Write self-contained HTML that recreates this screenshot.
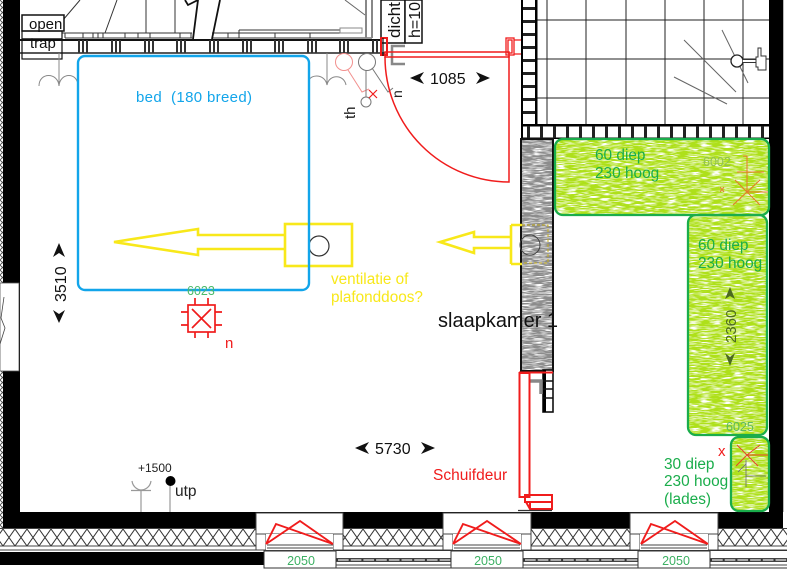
<!DOCTYPE html>
<html><head><meta charset="utf-8"><style>
html,body{margin:0;padding:0;background:#fff}
svg{display:block}
text{font-family:"Liberation Sans",sans-serif;white-space:pre}
</style></head><body>
<svg width="800" height="581" viewBox="0 0 800 581" xmlns="http://www.w3.org/2000/svg">
<defs>
<pattern id="hx" x="3" y="529" width="12" height="17" patternUnits="userSpaceOnUse"><path d="M0 0L12 17M12 0L0 17" stroke="#333" stroke-width="1"/></pattern>
<pattern id="hl" width="5" height="5" patternUnits="userSpaceOnUse"><path d="M0 0L5 5M5 0L0 5" stroke="#444" stroke-width=".8"/></pattern>
<filter id="tex" x="0" y="0" width="1" height="1" color-interpolation-filters="sRGB">
<feTurbulence type="fractalNoise" baseFrequency="0.09 1" numOctaves="2" seed="3"/>
<feColorMatrix values="0 0 0 0 1  0 0 0 0 1  0 0 0 0 1  5 0 0 0 -2.4"/>
<feComposite in2="SourceGraphic" operator="atop"/>
</filter>
</defs>
<rect width="800" height="581" fill="#fff"/>

<!-- left wall -->
<rect x="0" y="0" width="3" height="528" fill="url(#hl)"/>
<rect x="3" y="0" width="17" height="528" fill="#000"/>
<rect x="0" y="283" width="19" height="88" fill="#fff" stroke="#555" stroke-width=".8"/>
<path d="M4 297L1 318L5 328L0 344" fill="none" stroke="#444" stroke-width=".8"/>

<!-- bottom wall -->
<rect x="3" y="512" width="766" height="17" fill="#000"/>
<rect x="0" y="529" width="787" height="17" fill="url(#hx)"/>
<path d="M0 528.500H787M0 546H787M0 550H787" stroke="#444" stroke-width="1" fill="none"/>
<rect x="0" y="552" width="264" height="13" fill="#000"/>
<g stroke="#444" stroke-width="1" fill="#fff">
<rect x="256" y="513" width="87" height="21"/><rect x="443" y="513" width="88" height="21"/><rect x="630" y="513" width="88" height="21"/>
<rect x="256" y="534" width="10" height="16"/><rect x="333" y="534" width="10" height="16"/>
<rect x="443" y="534" width="10" height="16"/><rect x="521" y="534" width="10" height="16"/>
<rect x="630" y="534" width="10" height="16"/><rect x="708" y="534" width="10" height="16"/>
</g>
<g fill="#fff" stroke="none"><rect x="266" y="534" width="67" height="16"/><rect x="453" y="534" width="68" height="16"/><rect x="640" y="534" width="68" height="16"/></g>
<path d="M267 545H333M267 548H333M454 545H520M454 548H520M641 545H707M641 548H707" stroke="#444" stroke-width="1"/>
<!-- lower strip -->
<path d="M336 550.500H787M264 568H787" stroke="#333" stroke-width="1"/>
<path d="M336 558.500H451M336 561.500H451M336 565H451M523 558.500H638M523 561.500H638M523 565H638M710 558.500H787M710 561.500H787M710 565H787" stroke="#444" stroke-width="1"/>
<path d="M336 560H451M523 560H638M710 560H787" stroke="#aaa" stroke-width="2"/>
<path d="M336 560H451M523 560H638M710 560H787" stroke="#333" stroke-width="2" stroke-dasharray="2 10.700"/>
<g fill="#fff" stroke="#333" stroke-width="1">
<rect x="264" y="551" width="72" height="17"/><rect x="451" y="551" width="72" height="17"/><rect x="638" y="551" width="72" height="17"/>
</g>
<g font-size="12.500" fill="#3cb063" text-anchor="middle"><text x="301" y="565">2050</text><text x="488" y="565">2050</text><text x="676" y="565">2050</text></g>
<g fill="none" stroke="#f01c1c" stroke-width="1.900">
<path d="M266 544L276 524L333 544M266 544L300 521L333 544"/>
<path d="M453 544L463 524L521 544M453 544L487 521L521 544"/>
<path d="M641 544L651 524L708 544M641 544L675 521L708 544"/>
</g>

<!-- right wall -->
<rect x="769" y="0" width="14" height="528" fill="#000"/>
<rect x="783" y="0" width="1" height="512" fill="#bbb"/>

<!-- tiles -->
<g stroke="#222" stroke-width="1" fill="none">
<path d="M547 0V124M586 0V124M626 0V124M665 0V124M704 0V124M743 0V124M537 20H769M537 59H769M537 98H769"/>
</g>
<rect x="521" y="0" width="2" height="138" fill="#000"/>
<rect x="535" y="0" width="2.500" height="126" fill="#000"/>
<g fill="#222">
<rect x="523" y="7" width="12" height="3"/><rect x="523" y="20" width="12" height="3"/><rect x="523" y="33" width="12" height="3"/><rect x="523" y="46" width="12" height="3"/><rect x="523" y="59" width="12" height="3"/><rect x="523" y="72" width="12" height="3"/><rect x="523" y="85" width="12" height="3"/><rect x="523" y="98" width="12" height="3"/><rect x="523" y="111" width="12" height="3"/>
</g>
<rect x="521" y="124" width="248" height="2.500" fill="#000"/>
<rect x="521" y="137.500" width="248" height="1.500" fill="#000"/>
<g fill="#222">
<rect x="527" y="126" width="3" height="12"/><rect x="540" y="126" width="3" height="12"/><rect x="553" y="126" width="3" height="12"/><rect x="566" y="126" width="3" height="12"/><rect x="579" y="126" width="3" height="12"/><rect x="592" y="126" width="3" height="12"/><rect x="605" y="126" width="3" height="12"/><rect x="618" y="126" width="3" height="12"/><rect x="631" y="126" width="3" height="12"/><rect x="644" y="126" width="3" height="12"/><rect x="657" y="126" width="3" height="12"/><rect x="670" y="126" width="3" height="12"/><rect x="683" y="126" width="3" height="12"/><rect x="696" y="126" width="3" height="12"/><rect x="709" y="126" width="3" height="12"/><rect x="722" y="126" width="3" height="12"/><rect x="735" y="126" width="3" height="12"/><rect x="748" y="126" width="3" height="12"/><rect x="761" y="126" width="3" height="12"/>
</g>
<!-- shower -->
<g stroke="#666" stroke-width="1" fill="none">
<path d="M684 40L736 92M722 30L748 83M674 77L727 104"/>
</g>
<circle cx="737" cy="61" r="6" fill="#fff" stroke="#222" stroke-width="1.300"/>
<path d="M743 61H760" stroke="#333" stroke-width="4"/><path d="M743 61H760" stroke="#fff" stroke-width="2"/>
<path d="M758 48h3v8h5v14h-8v-3h-2v-10h2z" fill="#fff" stroke="#333" stroke-width="1"/>

<!-- top wall -->
<rect x="20" y="39" width="365" height="14" fill="#fff"/>
<path d="M20 40H385" stroke="#111" stroke-width="2"/>
<path d="M20 53H385" stroke="#222" stroke-width="1.500"/>
<g fill="#333">
<path d="M78 40h2v13h-2zM82 40h2v13h-2zM86 40h2v13h-2zM111 40h2v13h-2zM115 40h2v13h-2zM119 40h2v13h-2zM144 40h2v13h-2zM148 40h2v13h-2zM152 40h2v13h-2zM176 40h2v13h-2zM180 40h2v13h-2zM184 40h2v13h-2zM209 40h2v13h-2zM213 40h2v13h-2zM217 40h2v13h-2zM242 40h2v13h-2zM246 40h2v13h-2zM250 40h2v13h-2zM274 40h2v13h-2zM278 40h2v13h-2zM282 40h2v13h-2zM307 40h2v13h-2zM311 40h2v13h-2zM315 40h2v13h-2zM339 40h2v13h-2zM343 40h2v13h-2zM347 40h2v13h-2zM372 40h2v13h-2zM376 40h2v13h-2zM380 40h2v13h-2z"/>
</g>
<!-- furniture top -->
<g stroke="#333" stroke-width="1" fill="none">
<path d="M63 20L80 0M117 0L105 33M146 0V33M175 0V33M62 33H192M212 33H362M239 30H340M65 38H192M212 38H372M65 33V38M83 33V38M93 33V38M98 33V38M103 33V38M125 33V38M138 33V38M150 33V38M180 33V38M191 33V38M228 33V38M239 30V38M275 33V38M310 33V38"/>
<path d="M366 0V38M372 0V38" stroke="#888" stroke-width="2"/>
<path d="M345 0L365 15" stroke="#666"/>
</g>
<path d="M185 0L188 5L198 0L193 39M220 0L212 39" fill="none" stroke="#111" stroke-width="1.800"/>
<rect x="340" y="28" width="22" height="5" fill="#fff" stroke="#888" stroke-width="1"/>

<rect x="22" y="15" width="42" height="16" fill="#fff" stroke="#111" stroke-width="1.500"/>
<rect x="22" y="31" width="40" height="28" fill="none" stroke="#111" stroke-width="1.200"/>
<path d="M22 39H62" stroke="#111" stroke-width="1.500"/>
<text x="29" y="29" font-size="15" fill="#111">open</text>
<text x="30" y="48" font-size="15" fill="#111">trap</text>

<!-- dicht box -->
<rect x="381" y="0" width="24" height="43" fill="#fff" stroke="#111" stroke-width="1.500"/>
<rect x="405" y="0" width="17" height="43" fill="#fff" stroke="#111" stroke-width="1.500"/>
<text transform="translate(400,38) rotate(-90)" font-size="17" fill="#111">dicht</text>
<text transform="translate(420,38) rotate(-90)" font-size="16" fill="#111">h=10</text>
<path d="M405 46H392V64H405" fill="none" stroke="#888" stroke-width="2.500"/>

<!-- sockets -->
<g fill="none" stroke="#888" stroke-width="1">
<path d="M59 53V86M39 86C39 72 58 72 59 86C60 72 78 72 78 86"/>
<path d="M327 53V85M309 80C312 74 325 74 327 85C329 74 344 74 346 85"/>
</g>
<circle cx="344" cy="62" r="8.500" fill="#fff" stroke="#f2908e" stroke-width="1"/>
<path d="M348 70L362 92L369 89" fill="none" stroke="#f2908e" stroke-width="1"/>
<circle cx="367" cy="62" r="8.500" fill="#fff" stroke="#777" stroke-width="1"/>
<path d="M366 70V97M372 68L388 92L393 88" fill="none" stroke="#777" stroke-width="1"/>
<circle cx="366" cy="102" r="5" fill="#fff" stroke="#777" stroke-width="1"/>
<path d="M369 90L377 98M377 90L369 98" stroke="#f01c1c" stroke-width="1.200"/>
<text transform="translate(355,119) rotate(-90)" font-size="15" fill="#222">th</text>
<text transform="translate(402,98) rotate(-90)" font-size="14" fill="#222">n</text>

<!-- door -->
<g fill="none" stroke="#f01c1c" stroke-width="1.300">
<rect x="381" y="38" width="6" height="17" stroke-width="2"/>
<rect x="385" y="52" width="124" height="5" stroke-width="1.500"/>
<path d="M385 57A124 125 0 0 0 509 182V56" stroke-width="1.500"/>
<rect x="506" y="38" width="8" height="17"/><rect x="508" y="40" width="4" height="13"/>
<path d="M514 40H521M514 54H521"/>
</g>
<path d="M383 38V56" stroke="#111" stroke-width="1.200"/>

<!-- grey column -->
<rect x="521" y="139" width="32" height="233" fill="#8c8c8c" filter="url(#tex)"/>
<rect x="521" y="139" width="32" height="232" fill="none" stroke="#111" stroke-width="2"/>

<!-- cabinets -->
<rect x="555" y="139" width="214" height="76" rx="8" fill="#aee01a" filter="url(#tex)"/>
<rect x="688" y="215" width="79" height="220" rx="8" fill="#aee01a" filter="url(#tex)"/>
<rect x="731" y="437" width="38" height="74" rx="8" fill="#aee01a" filter="url(#tex)"/>
<g fill="none" stroke="#1aad4b" stroke-width="2.300">
<rect x="555" y="139" width="214" height="76" rx="8"/>
<rect x="688" y="215" width="79" height="220" rx="8"/>
<rect x="731" y="437" width="38" height="74" rx="8"/>
</g>
<g fill="#1aad4b" font-size="15.400">
<text x="595" y="160">60 diep</text><text x="595" y="178">230 hoog</text>
<text x="698" y="250">60 diep</text><text x="698" y="268">230 hoog</text>
<text x="664" y="469">30 diep</text><text x="664" y="486">230 hoog</text><text x="664" y="504">(lades)</text>
</g>
<text x="703" y="166" font-size="12.500" fill="#8fbf55">6002</text>
<text x="726" y="431" font-size="12.500" fill="#5dba5f">6025</text>
<g fill="none" stroke="#e8762a" stroke-width="1">
<path d="M747 192L735 180M747 192L760 180M747 192L733 205M747 192L760 205M747 192H768M747 192V156M747 156H743M737 172H764M720 187L724 192M724 187L720 192"/>
</g>
<g fill="none" stroke="#e8432a" stroke-width="1">
<path d="M747 455L737 445M747 455L760 445M747 455L736 466M747 455L758 466M747 455H768"/>
</g>
<path d="M746 460V487M738 472L746 464M746 476H766" stroke="#667" stroke-width=".8" fill="none"/>
<text x="718" y="456" font-size="15" fill="#f01c1c">x</text>
<text transform="translate(736,343) rotate(-90)" font-size="15" fill="#4c6a20">2360</text>
<path d="M730 287L725 299L730 296L735 299ZM730 366L725 353L730 357L735 353Z" fill="#4c6a20"/>

<!-- yellow -->
<g fill="none" stroke="#f8e81a" stroke-width="2.600">
<path d="M285 235H198V229L114 242L198 255V249H285"/>
<rect x="285" y="224" width="67" height="42"/>
<path d="M510 237H474V232L440 242L474 253V248H510"/>
<path d="M511 225V264"/><path d="M511 225H522M511 264H522"/>
</g>
<path d="M522 225H548V263H522" fill="none" stroke="#c8b020" stroke-width="1" stroke-dasharray="3 2"/>
<circle cx="319" cy="246" r="10" fill="#fff" stroke="#333" stroke-width="1.200"/>
<circle cx="530" cy="245" r="10" fill="none" stroke="#444" stroke-width="1"/>

<!-- bed -->
<rect x="78" y="56" width="231" height="234" rx="7" fill="none" stroke="#12a5ea" stroke-width="2.400"/>
<text x="136" y="102" font-size="15" fill="#12a5ea" textLength="116" lengthAdjust="spacing" xml:space="preserve">bed  (180 breed)</text>

<text x="331" y="284" font-size="15.300" fill="#f8e81a">ventilatie of</text>
<text x="331" y="302" font-size="15.300" fill="#f8e81a">plafonddoos?</text>

<text x="438" y="327" font-size="20" fill="#111">slaapkamer 1</text>

<!-- sliding door -->
<rect x="543" y="370" width="10" height="42" fill="#fff" stroke="#111" stroke-width="1.600"/>
<rect x="543" y="370" width="3" height="42" fill="#000"/>
<path d="M543 381H553M543 389H553M543 398H553" stroke="#111" stroke-width="1.600"/>
<path d="M530 381H541V394" fill="none" stroke="#888" stroke-width="3.500"/>
<g fill="none" stroke="#f01c1c" stroke-width="2">
<path d="M519 372.500H553"/>
<rect x="519.500" y="373" width="10" height="124"/>
<rect x="525" y="495" width="27" height="7"/>
<path d="M526 502L530 509H552V502M530 502V509"/>
</g>
<path d="M518 510.500H552" stroke="#333" stroke-width="1.200"/>

<!-- dimensions -->
<g font-size="16" fill="#111">
<text x="430" y="84">1085</text>
<text x="375" y="454">5730</text>
<text transform="translate(66,302) rotate(-90)">3510</text>
</g>
<g fill="#111">
<path d="M410 78L424 72L420 78L424 84ZM490 78L476 72L480 78L476 84Z"/>
<path d="M355 448L369 442L365 448L369 454ZM435 448L421 442L425 448L421 454Z"/>
<path d="M59 243L53 257L59 253L65 257ZM59 323L53 310L59 314L65 310Z"/>
</g>

<!-- smoke detector -->
<g fill="none" stroke="#f01c1c" stroke-width="1.700">
<rect x="188" y="305" width="27" height="27"/>
<path d="M192 309L211 328M211 309L192 328M195 298V305M208 298V305M195 332V338M208 332V338M181 312H188M181 325H188M215 312H222M215 325H222"/>
</g>
<text x="187" y="295" font-size="12.500" fill="#4dbb6a">6023</text>
<text x="225" y="348" font-size="15" fill="#f01c1c">n</text>

<!-- utp -->
<g fill="none" stroke="#999" stroke-width="1.200">
<path d="M141 512V491M131 490.500H151"/><path d="M170 512V484"/>
<path d="M132 481C133 488 139 490 141 490C144 490 150 488 151 481"/>
</g>
<circle cx="170.500" cy="481" r="5" fill="#000"/>
<text x="138" y="472" font-size="12" fill="#222">+1500</text>
<text x="175" y="496" font-size="15.500" fill="#222">utp</text>

<text x="433" y="480" font-size="15.500" fill="#f01c1c">Schuifdeur</text>
</svg>
</body></html>
